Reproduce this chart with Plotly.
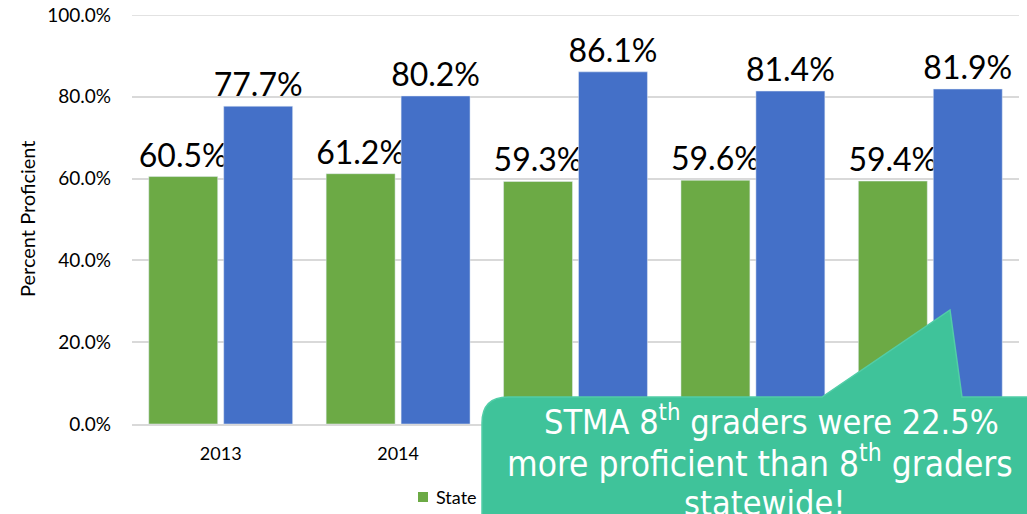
import plotly.graph_objects as go

years = ["2013", "2014", "2015", "2016", "2017"]
state = [60.5, 61.2, 59.3, 59.6, 59.4]
stma = [77.7, 80.2, 86.1, 81.4, 81.9]
series_names = ["State", "STMA"]
y_max = 100
callout_lines = [
    "STMA 8<sup>th</sup> graders were 22.5%",
    "more proficient than 8<sup>th</sup> graders",
    "statewide!",
]

W, H = 1027, 514
L, R, T, B = 132, 8, 15, 90
PW, PH = W - L - R, H - T - B


def px(x):
    return (x - L) / PW


def py(y):
    return (H - B - y) / PH


fig = go.Figure()
fig.add_trace(go.Bar(
    x=years, y=state, name=series_names[0], showlegend=False,
    marker=dict(color="#6CAA45"),
    texttemplate="%{y:.1f}%", textposition="outside",
    textfont=dict(family="Lato", size=32, color="#000000"),
    constraintext="none", cliponaxis=False,
))
fig.add_trace(go.Bar(
    x=years, y=stma, name=series_names[1], showlegend=False,
    marker=dict(color="#4470C8"),
    texttemplate="%{y:.1f}%", textposition="outside",
    textfont=dict(family="Lato", size=32, color="#000000"),
    constraintext="none", cliponaxis=False,
))

# top gridline (at the edge of the axis range)
fig.add_shape(type="line", xref="paper", yref="y", x0=0, x1=1, y0=y_max, y1=y_max,
              line=dict(color="#D9D9D9", width=1.5), layer="below")

# legend (only the visible "State" entry; the other is under the callout)
fig.add_shape(type="rect", xref="paper", yref="paper",
              x0=px(418), x1=px(428), y0=py(502), y1=py(492),
              fillcolor="#6CAA45", line=dict(width=0))
fig.add_annotation(text=series_names[0], xref="paper", yref="paper",
                   x=px(434), y=py(497), showarrow=False,
                   xanchor="left", yanchor="middle",
                   font=dict(family="Lato", size=18, color="#000000"))

# callout shape (rounded rectangle with pointer)
r = 26
x0, y0, x1, y1 = 482, 397, 1060, 560
pb0, pax, pay, pb1 = 822, 950, 310, 962


def P(x, y):
    return f"{px(x):.5f},{py(y):.5f}"


path = (
    f"M {P(x0 + r, y0)} L {P(pb0, y0)} L {P(pax, pay)} L {P(pb1, y0)} "
    f"L {P(x1 - r, y0)} Q {P(x1, y0)} {P(x1, y0 + r)} "
    f"L {P(x1, y1)} L {P(x0, y1)} L {P(x0, y0 + r)} Q {P(x0, y0)} {P(x0 + r, y0)} Z"
)
fig.add_shape(type="path", path=path, xref="paper", yref="paper",
              fillcolor="#3FC39A", line=dict(color="#52CDA7", width=1.5),
              layer="above")

for txt, xc, yc, sz in zip(callout_lines, [771, 760, 765], [420, 461, 503], [34, 35, 34]):
    fig.add_annotation(text=txt, xref="paper", yref="paper",
                       x=px(xc), y=py(yc), showarrow=False,
                       xanchor="center", yanchor="middle",
                       font=dict(family="DejaVu Sans Condensed, DejaVu Sans", size=sz,
                                 color="#FFFFFF"))

fig.add_annotation(text="Percent Proficient", xref="paper", yref="paper",
                   x=px(27), y=py(219), textangle=-90, showarrow=False,
                   xanchor="center", yanchor="middle",
                   font=dict(family="Lato", size=20, color="#000000"))

fig.update_layout(
    width=W, height=H,
    margin=dict(l=L, r=R, t=T, b=B, autoexpand=False),
    paper_bgcolor="white", plot_bgcolor="white",
    barmode="group", bargap=0.155, bargroupgap=0.08,
    font=dict(family="Lato", color="#000000"),
    showlegend=False,
)
fig.update_xaxes(type="category", showline=True, linecolor="#D9D9D9", linewidth=2,
                 ticks="", tickfont=dict(family="Lato", size=18, color="#000000"),
                 ticklabelstandoff=12, automargin=False)
fig.update_yaxes(range=[0, y_max], dtick=20, tickformat=".1f", ticksuffix="%",
                 showgrid=True, gridcolor="#D9D9D9", gridwidth=1.5, zeroline=False,
                 ticks="", tickfont=dict(family="Lato", size=19, color="#000000"),
                 ticklabelstandoff=20, automargin=False)

fig.write_html("out.html", config={"displayModeBar": False},
               post_script="document.body.style.margin='0';document.body.style.overflow='hidden';")
